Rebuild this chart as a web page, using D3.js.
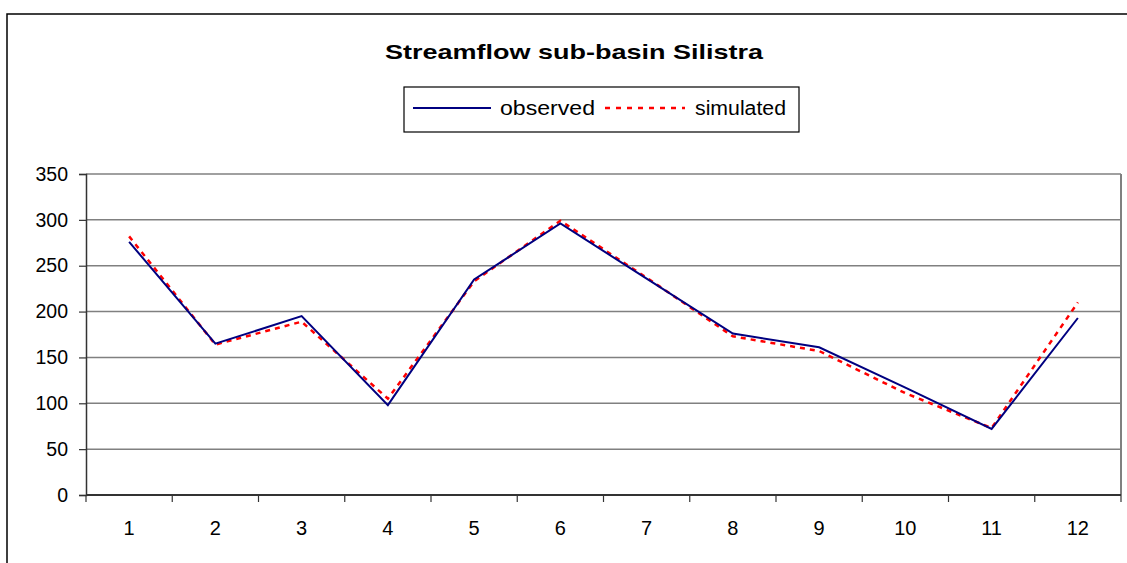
<!DOCTYPE html>
<html>
<head>
<meta charset="utf-8">
<script src="https://cdn.jsdelivr.net/npm/d3@7"></script>
<style>
  body { margin: 0; background: #fff; }
</style>
</head>
<body>
<div id="chart"></div>
<script>
// months 1..12
var months = [1, 2, 3, 4, 5, 6, 7, 8, 9, 10, 11, 12];
var observed = [276, 165, 195, 98, 235, 296, 236, 176, 161, 117, 72, 193];
var simulated = [282, 164, 189, 105, 233, 299, 237, 173, 157, 111, 73, 210];
var yTicks = [0, 50, 100, 150, 200, 250, 300, 350];

var width = 1127, height = 563;
var margin = {top: 174, right: 6, bottom: 68, left: 86};

var svg = d3.select('#chart').append('svg')
  .attr('width', width)
  .attr('height', height)
  .attr('font-family', 'Liberation Sans, Arial, sans-serif');

// outer chart frame (runs off the right/bottom edge)
svg.append('rect')
  .attr('x', 7).attr('y', 14)
  .attr('width', 1130).attr('height', 560)
  .attr('fill', 'none')
  .attr('stroke', '#000')
  .attr('stroke-width', 1.5);

var x = d3.scaleBand()
  .domain(months)
  .range([margin.left, width - margin.right]);

var y = d3.scaleLinear()
  .domain([0, 350])
  .range([height - margin.bottom, margin.top]);

// gridlines
svg.append('g')
  .selectAll('line')
  .data(yTicks.slice(1))
  .join('line')
  .attr('x1', margin.left)
  .attr('x2', width - margin.right)
  .attr('y1', d => y(d))
  .attr('y2', d => y(d))
  .attr('stroke', '#808080')
  .attr('stroke-width', 1.5);

// right border of plot area
svg.append('line')
  .attr('x1', width - margin.right).attr('x2', width - margin.right)
  .attr('y1', y(350)).attr('y2', y(0))
  .attr('stroke', '#808080')
  .attr('stroke-width', 2);

// y axis
var yAxis = g => g
  .attr('transform', `translate(${margin.left},0)`)
  .call(d3.axisLeft(y).tickValues(yTicks).tickSize(7).tickPadding(11))
  .call(g => g.select('.domain').attr('stroke', '#333').attr('stroke-width', 1.5))
  .call(g => g.selectAll('.tick line').attr('stroke', '#333').attr('stroke-width', 1.2))
  .call(g => g.selectAll('.tick text')
    .attr('fill', '#000')
    .attr('font-family', 'Liberation Sans, Arial, sans-serif')
    .attr('font-size', '19.5px'));

// x axis: ticks on band boundaries
var bounds = months.map(d => x(d)).concat([x.range()[1]]);
var xAxis = g => g
  .call(g => g.append('line')
    .attr('x1', margin.left).attr('x2', width - margin.right)
    .attr('y1', y(0)).attr('y2', y(0))
    .attr('stroke', '#333').attr('stroke-width', 2))
  .call(g => g.selectAll('line.tk')
    .data(bounds)
    .join('line')
    .attr('class', 'tk')
    .attr('x1', d => d).attr('x2', d => d)
    .attr('y1', y(0)).attr('y2', y(0) + 7)
    .attr('stroke', '#333').attr('stroke-width', 1.2))
  .call(g => g.selectAll('text')
    .data(months)
    .join('text')
    .attr('x', d => x(d) + x.bandwidth() / 2)
    .attr('y', y(0) + 40)
    .attr('text-anchor', 'middle')
    .attr('font-size', '20px')
    .attr('fill', '#000')
    .text(d => d));

svg.append('g').call(yAxis);
svg.append('g').call(xAxis);

var line = d3.line()
  .x((d, i) => x(months[i]) + x.bandwidth() / 2)
  .y(d => y(d));

svg.append('path')
  .datum(simulated)
  .attr('d', line)
  .attr('fill', 'none')
  .attr('stroke', '#ff0000')
  .attr('stroke-width', 2.5)
  .attr('stroke-dasharray', '5,5');

svg.append('path')
  .datum(observed)
  .attr('d', line)
  .attr('fill', 'none')
  .attr('stroke', '#000080')
  .attr('stroke-width', 2);

// title
svg.append('text')
  .attr('x', 385)
  .attr('y', 59)
  .attr('font-size', '21px')
  .attr('font-weight', '700')
  .attr('textLength', 378)
  .attr('lengthAdjust', 'spacingAndGlyphs')
  .text('Streamflow sub-basin Silistra');

// legend
var legend = svg.append('g');
legend.append('rect')
  .attr('x', 404).attr('y', 87)
  .attr('width', 395).attr('height', 45)
  .attr('fill', '#fff')
  .attr('stroke', '#000')
  .attr('stroke-width', 1.2);
legend.append('line')
  .attr('x1', 413).attr('x2', 491).attr('y1', 108).attr('y2', 108)
  .attr('stroke', '#000080').attr('stroke-width', 2);
legend.append('text')
  .attr('x', 500).attr('y', 115)
  .attr('font-size', '20px')
  .attr('textLength', 95)
  .attr('lengthAdjust', 'spacingAndGlyphs')
  .text('observed');
legend.append('line')
  .attr('x1', 605).attr('x2', 685).attr('y1', 108).attr('y2', 108)
  .attr('stroke', '#ff0000').attr('stroke-width', 2.5)
  .attr('stroke-dasharray', '5,6');
legend.append('text')
  .attr('x', 695).attr('y', 115)
  .attr('font-size', '20px')
  .attr('textLength', 91)
  .attr('lengthAdjust', 'spacingAndGlyphs')
  .text('simulated');
</script>
</body>
</html>
